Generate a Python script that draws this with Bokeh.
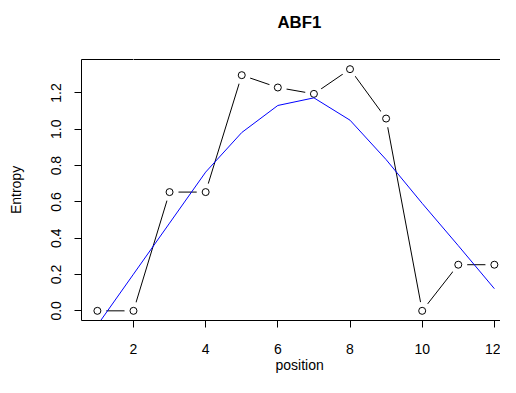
from bokeh.plotting import figure
from bokeh.models import Range1d, FixedTicker, LinearAxis, Title
from bokeh.embed import file_html
from bokeh.resources import INLINE

# ---- data ----
position = [1, 2, 3, 4, 5, 6, 7, 8, 9, 10, 11, 12]
entropy = [0.0, 0.0, 0.654, 0.654, 1.298, 1.230, 1.195, 1.331, 1.059, 0.0, 0.254, 0.254]
smooth = [-0.079, 0.202, 0.483, 0.764, 0.982, 1.131, 1.173, 1.050, 0.833, 0.592, 0.359, 0.122]
x_ticks = [2, 4, 6, 8, 10, 12]
y_ticks = [0.0, 0.2, 0.4, 0.6, 0.8, 1.0, 1.2]
y_tick_labels = ["0.0", "0.2", "0.4", "0.6", "0.8", "1.0", "1.2"]
title_text = "ABF1"
x_label = "position"
y_label = "Entropy"

FONT = "Liberation Sans"

# R-style 4% axis padding
ymin, ymax = min(entropy), max(entropy)
ypad = 0.04 * (ymax - ymin)
xmin = min(position)
xpad = 0.04 * (max(position) - xmin)

p = figure(width=500, height=377, output_backend="svg", toolbar_location=None,
           x_range=Range1d(xmin - xpad, 12.17),
           y_range=Range1d(ymin - ypad, ymax + ypad),
           min_border_left=81, min_border_right=0, min_border_top=59, min_border_bottom=57,
           background_fill_color="white", border_fill_color="white")
p.title = None

p.outline_line_color = None
p.grid.visible = False

# x axis
xa = p.xaxis[0]
xa.ticker = FixedTicker(ticks=x_ticks)
xa.major_label_text_font = FONT
xa.major_label_text_font_size = "14px"
xa.major_label_text_color = "black"
xa.major_label_standoff = 16
xa.major_tick_out = 7
xa.major_tick_in = 0
xa.minor_tick_line_color = None
xa.axis_line_color = "black"
xa.major_tick_line_color = "black"

# y axis
ya = p.yaxis[0]
ya.ticker = FixedTicker(ticks=y_ticks)
ya.major_label_overrides = {t: s for t, s in zip(y_ticks, y_tick_labels)}
ya.major_label_orientation = "vertical"
ya.axis_label = y_label
ya.axis_label_text_font = FONT
ya.axis_label_text_font_size = "14px"
ya.axis_label_text_font_style = "normal"
ya.axis_label_text_color = "black"
ya.axis_label_standoff = 25
ya.major_label_text_font = FONT
ya.major_label_text_font_size = "14px"
ya.major_label_text_color = "black"
ya.major_label_standoff = 13
ya.major_tick_out = 7
ya.major_tick_in = 0
ya.minor_tick_line_color = None
ya.axis_line_color = "black"
ya.major_tick_line_color = "black"

# top edge of the box (the right edge is outside the reference image);
# one invisible (white) tick reserves the space that pushes the title up
top = LinearAxis(ticker=FixedTicker(ticks=x_ticks[:1]),
                 major_label_overrides={x_ticks[0]: ""},
                 major_label_text_font_size="1px",
                 major_tick_out=26, major_tick_in=0, minor_tick_out=0, minor_tick_in=0,
                 major_tick_line_color="white", minor_tick_line_color=None,
                 major_label_standoff=0, axis_line_color="black")
p.add_layout(top, "above")

# main title, centred over the whole R plot region
p.add_layout(Title(text=title_text, align="left", offset=196, standoff=4,
                   text_font=FONT, text_font_size="16.8px", text_font_style="bold",
                   text_color="black"), "above")

# x axis title
p.add_layout(Title(text=x_label, align="left", offset=194, standoff=0, vertical_align="top",
                   text_font=FONT, text_font_size="14px", text_font_style="normal",
                   text_color="black"), "below")

# black "type b" line: line, white gaps around points, open circles
p.line(position, entropy, line_color="black", line_width=1)
p.scatter(position, entropy, size=18, fill_color="white", line_color=None)
p.scatter(position, entropy, size=7, fill_color=None, line_color="black", line_width=1)

# blue fitted line
p.line(position, smooth, line_color="blue", line_width=1)

open("out.html", "w").write(file_html(p, INLINE))
